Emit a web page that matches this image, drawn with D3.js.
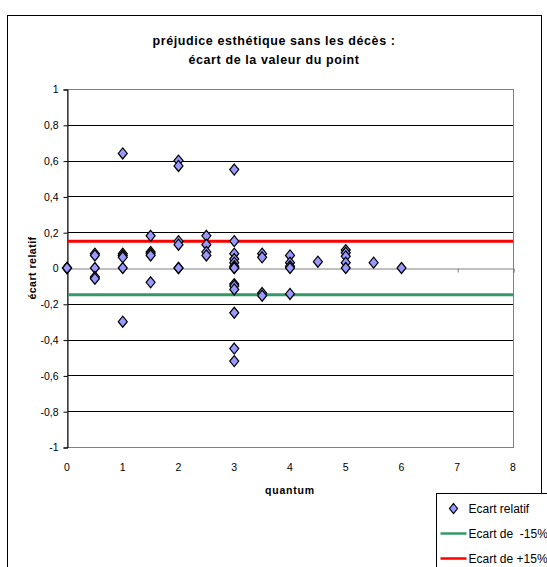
<!DOCTYPE html>
<html>
<head>
<meta charset="utf-8">
<script src="https://cdn.jsdelivr.net/npm/d3@7"></script>
<style>
  html, body { margin: 0; padding: 0; background: #fff; }
  svg { display: block; }
</style>
</head>
<body>
<svg id="chart" width="547" height="567"></svg>
<script>
// Relative deviation of each case (quantum, écart relatif)
const quantum = [
  0, 0, 0,
  0.5, 0.5, 0.5, 0.5, 0.5,
  1, 1, 1, 1, 1, 1,
  1.5, 1.5, 1.5, 1.5, 1.5,
  2, 2, 2, 2, 2, 2,
  2.5, 2.5, 2.5, 2.5,
  3, 3, 3, 3, 3, 3, 3, 3, 3, 3, 3, 3, 3, 3,
  3.5, 3.5, 3.5, 3.5,
  4, 4, 4, 4, 4,
  4.5,
  5, 5, 5, 5, 5,
  5.5,
  6
];
const ecartRelatif = [
  0, 0, 0,
  0.08, 0.07, 0, -0.05, -0.06,
  0.64, 0.08, 0.07, 0.06, 0, -0.30,
  0.18, 0.09, 0.08, 0.07, -0.08,
  0.60, 0.57, 0.15, 0.13, 0, 0,
  0.18, 0.13, 0.09, 0.07,
  0.55, 0.15, 0.08, 0.05, 0.03, 0.01, 0, -0.09, -0.10, -0.12, -0.25, -0.45, -0.52, 0,
  0.08, 0.06, -0.14, -0.155,
  0.07, 0.03, 0.01, 0, -0.145,
  0.035,
  0.10, 0.085, 0.065, 0.03, 0,
  0.03,
  0
];
const seuilBas = -0.15;
const seuilHaut = 0.15;
const xTicks = [0, 1, 2, 3, 4, 5, 6, 7, 8];
const yTicks = [-1, -0.8, -0.6, -0.4, -0.2, 0, 0.2, 0.4, 0.6, 0.8, 1];
const titleLines = ["préjudice esthétique sans les décès :", "écart de la valeur du point"];
const legendLabels = ["Ecart relatif", "Ecart de  -15%", "Ecart de +15%"];

const points = quantum.map((q, i) => ({ x: q, y: ecartRelatif[i] }));

const svg = d3.select("#chart");
const font = "'Liberation Sans', Arial, sans-serif";

// chart frame
svg.append("rect")
  .attr("x", 7.5).attr("y", 15.5)
  .attr("width", 534).attr("height", 570)
  .attr("fill", "#fff").attr("stroke", "#000").attr("stroke-width", 1);

const plot = { left: 67, right: 513, top: 89, bottom: 447 };
const x = d3.scaleLinear().domain([0, 8]).range([plot.left, plot.right]);
const y = d3.scaleLinear().domain([-1, 1]).range([plot.bottom, plot.top]);

// title
svg.append("g").selectAll("text").data(titleLines).join("text")
  .attr("x", 274).attr("y", (d, i) => 45 + i * 19)
  .attr("text-anchor", "middle")
  .attr("font-family", font).attr("font-weight", "bold")
  .attr("font-size", 12.5).attr("letter-spacing", 0.6)
  .attr("fill", "#000")
  .text(d => d);

// horizontal gridlines
svg.append("g").selectAll("line").data(yTicks.filter(v => v !== 0 && v !== -1)).join("line")
  .attr("x1", plot.left).attr("x2", plot.right)
  .attr("y1", d => Math.round(y(d)) + 0.5).attr("y2", d => Math.round(y(d)) + 0.5)
  .attr("stroke", "#000").attr("stroke-width", 1);

// plot area border
svg.append("rect")
  .attr("x", plot.left + 0.5).attr("y", plot.top + 0.5)
  .attr("width", plot.right - plot.left).attr("height", plot.bottom - plot.top)
  .attr("fill", "none").attr("stroke", "#808080").attr("stroke-width", 1);

// x axis on the zero line
const xAxis = d3.axisBottom(x).tickValues(xTicks).tickSize(4).tickFormat("");
const gx = svg.append("g")
  .attr("transform", `translate(0.5,${Math.round(y(0)) + 0.5})`)
  .call(xAxis);
gx.select(".domain").attr("stroke", "#808080");
gx.selectAll(".tick line").attr("stroke", "#808080");

// x tick labels below the plot
svg.append("g").selectAll("text").data(xTicks).join("text")
  .attr("x", d => x(d)).attr("y", 471)
  .attr("text-anchor", "middle")
  .attr("font-family", font).attr("font-size", 10.5)
  .text(d => d);

// y axis
const fmt = v => String(v).replace(".", ",");
const yAxis = d3.axisLeft(y).tickValues(yTicks).tickSize(4).tickFormat(fmt);
const gy = svg.append("g")
  .attr("transform", `translate(${plot.left + 0.5},0.5)`)
  .call(yAxis);
gy.select(".domain").attr("stroke", "#000");
gy.selectAll(".tick line").attr("stroke", "#000");
gy.selectAll(".tick text")
  .attr("font-family", font).attr("font-size", 10.5).attr("fill", "#000").attr("x", -9);

// axis titles
svg.append("text")
  .attr("x", 290).attr("y", 494)
  .attr("text-anchor", "middle")
  .attr("font-family", font).attr("font-weight", "bold")
  .attr("font-size", 10.5).attr("letter-spacing", 0.8)
  .text("quantum");
svg.append("text")
  .attr("transform", `translate(36,${y(0)}) rotate(-90)`)
  .attr("text-anchor", "middle")
  .attr("font-family", font).attr("font-weight", "bold")
  .attr("font-size", 10.5).attr("letter-spacing", 0.5)
  .text("écart relatif");

// threshold lines
svg.append("line")
  .attr("x1", plot.left + 1).attr("x2", plot.right)
  .attr("y1", y(seuilBas)).attr("y2", y(seuilBas))
  .attr("stroke", "#339966").attr("stroke-width", 3);
svg.append("line")
  .attr("x1", plot.left + 1).attr("x2", plot.right)
  .attr("y1", y(seuilHaut)).attr("y2", y(seuilHaut))
  .attr("stroke", "#ff0000").attr("stroke-width", 3);

// diamond markers
const diamond = "M0,-5.5L4.5,0L0,5.5L-4.5,0Z";
svg.append("g").selectAll("path").data(points).join("path")
  .attr("d", diamond)
  .attr("transform", d => `translate(${x(d.x)},${y(d.y)})`)
  .attr("fill", "#9999ff").attr("stroke", "#000").attr("stroke-width", 1.2);

// legend
const lg = svg.append("g").attr("transform", "translate(436.5,493.5)");
lg.append("rect").attr("width", 130).attr("height", 90)
  .attr("fill", "#fff").attr("stroke", "#000").attr("stroke-width", 1);
lg.append("path").attr("d", "M0,-5L4,0L0,5L-4,0Z")
  .attr("transform", "translate(17,15)")
  .attr("fill", "#9999ff").attr("stroke", "#000").attr("stroke-width", 1.2);
lg.append("line").attr("x1", 4).attr("x2", 30).attr("y1", 40).attr("y2", 40)
  .attr("stroke", "#339966").attr("stroke-width", 2.5);
lg.append("line").attr("x1", 4).attr("x2", 30).attr("y1", 65).attr("y2", 65)
  .attr("stroke", "#ff0000").attr("stroke-width", 2.5);
lg.selectAll("text.lab").data(legendLabels).join("text")
  .attr("class", "lab")
  .attr("x", 32).attr("y", (d, i) => 19 + i * 25)
  .attr("font-family", font).attr("font-size", 12)
  .attr("xml:space", "preserve")
  .style("white-space", "pre")
  .text(d => d);
</script>
</body>
</html>
